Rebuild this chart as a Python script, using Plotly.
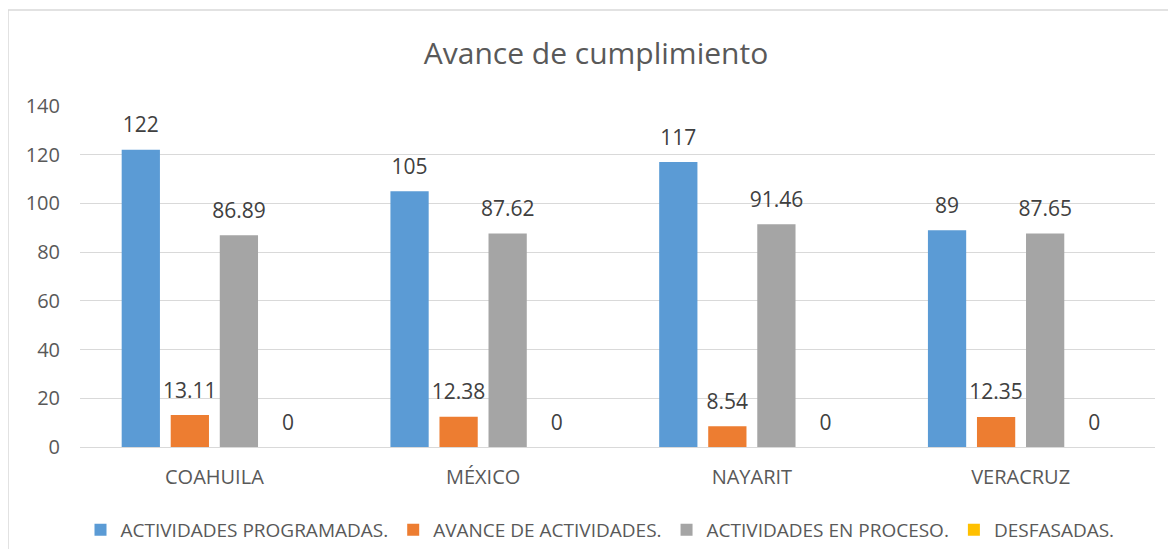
import plotly.graph_objects as go

categories = ["COAHUILA", "MÉXICO", "NAYARIT", "VERACRUZ"]
series_names = ["ACTIVIDADES PROGRAMADAS.", "AVANCE DE ACTIVIDADES.",
                "ACTIVIDADES EN PROCESO.", "DESFASADAS."]
programadas = [122, 105, 117, 89]
avance = [13.11, 12.38, 8.54, 12.35]
proceso = [86.89, 87.62, 91.46, 87.65]
desfasadas = [0, 0, 0, 0]
y_ticks = [0, 20, 40, 60, 80, 100, 120, 140]

series_values = [programadas, avance, proceso, desfasadas]
colors = ["#5B9BD5", "#ED7D31", "#A5A5A5", "#FFC000"]

FONT = "Open Sans, Noto Sans, sans-serif"

W, H = 1160, 541
L, R, T, B = 72, 13, 98, 102
PW, PH = W - L - R, H - T - B

fig = go.Figure()
for i, (name, vals, col) in enumerate(zip(series_names, series_values, colors)):
    fig.add_trace(go.Bar(
        x=categories, y=vals, name=name, marker=dict(color=col, line=dict(width=0)),
        offsetgroup=str(i), hoverinfo="x+y+name",
    ))
for i, (name, vals) in enumerate(zip(series_names, series_values)):
    fig.add_trace(go.Scatter(
        x=categories, y=vals, mode="markers+text", text=[f"{v:g}" for v in vals],
        textposition="top center", offsetgroup=str(i),
        marker=dict(size=18, opacity=0), showlegend=False, hoverinfo="skip",
        textfont=dict(size=21, color="#404040", family=FONT), cliponaxis=False,
    ))

fig.update_layout(
    width=W, height=H,
    margin=dict(l=L, r=R, t=T, b=B, pad=0, autoexpand=False),
    paper_bgcolor="white", plot_bgcolor="white",
    barmode="group", scattermode="group", bargap=0.27, bargroupgap=0.22,
    title=dict(text="Avance de cumplimiento", x=(588 - L) / PW, xref="paper",
               xanchor="center", y=1 - 45 / H, yanchor="middle",
               font=dict(size=30, color="#595959", family=FONT)),
    font=dict(family=FONT, color="#595959"),
    showlegend=True,
    legend=dict(orientation="h", x=(592 - L) / PW, xanchor="center",
                y=(H - B - 522) / PH, yanchor="middle",
                font=dict(size=19, color="#595959", family=FONT), itemwidth=30,
                traceorder="normal"),
    xaxis=dict(showgrid=False, showline=True, linecolor="#D9D9D9", linewidth=1,
               ticks="", tickfont=dict(size=20, color="#595959"), ticklabelstandoff=12),
    yaxis=dict(range=[0, 140], tickvals=y_ticks, showgrid=True, gridcolor="#D9D9D9",
               gridwidth=1, zeroline=False, showline=False, ticks="",
               tickfont=dict(size=20, color="#595959"), ticklabelstandoff=19),
)

# outer chart border
fig.add_shape(type="rect", xref="paper", yref="paper",
              x0=(0 - L) / PW, x1=(W + 20 - L) / PW,
              y0=(H - B - (H + 20)) / PH, y1=(H - B - 2) / PH,
              line=dict(color="#D9D9D9", width=1.5), layer="below")

fig.write_html("out.html")
